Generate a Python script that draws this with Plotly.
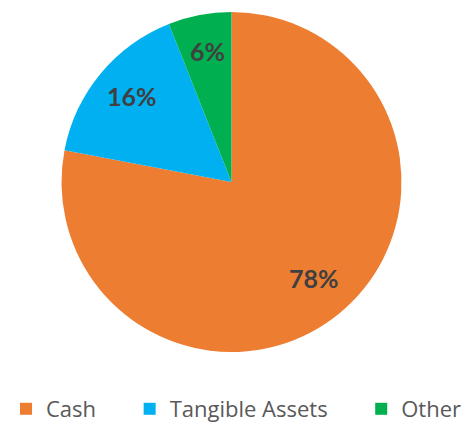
import math
import plotly.graph_objects as go

labels = ["Cash", "Tangible Assets", "Other"]
values = [78, 16, 6]
colors = ["#ED7D31", "#00B0F0", "#00B050"]

# page body has an 8px margin; figure coordinates are window coords minus 8
OFF = 8
W, H = 469 - OFF, 424 - OFF
cx, cy, R = 231.5 - OFF, 182 - OFF, 170
label_frac = 0.76

pad = "\u00a0" * 5
legend_names = [l + pad for l in labels[:-1]] + [labels[-1]]

fig = go.Figure(go.Pie(
    labels=legend_names,
    values=values,
    sort=False,
    direction="clockwise",
    rotation=0,
    marker=dict(colors=colors, line=dict(width=0)),
    textinfo="none",
    domain=dict(x=[(cx - R) / W, (cx + R) / W], y=[1 - (cy + R) / H, 1 - (cy - R) / H]),
    customdata=labels,
    hovertemplate="%{customdata}: %{percent:.0%}<extra></extra>",
))

total = sum(values)
cum = 0
for v in values:
    mid = (cum + v / 2) / total * 2 * math.pi
    cum += v
    px = cx + label_frac * R * math.sin(mid)
    py = cy - label_frac * R * math.cos(mid) - 4
    fig.add_annotation(
        x=px / W, y=1 - py / H, xref="paper", yref="paper",
        xanchor="center", yanchor="middle",
        text=f"<b>{round(v / total * 100)}%</b>", showarrow=False,
        font=dict(family="Lato, Liberation Sans, sans-serif", size=25, color="#404040"),
    )

fig.update_layout(
    width=W, height=H,
    margin=dict(l=0, r=0, t=0, b=0, autoexpand=False),
    paper_bgcolor="white",
    plot_bgcolor="white",
    showlegend=True,
    legend=dict(
        orientation="h", x=(236.5 - OFF) / W, xanchor="center",
        y=1 - (409 - OFF) / H, yanchor="middle",
        font=dict(family="Open Sans, Liberation Sans, sans-serif", size=22, color="#595959"),
        traceorder="normal",
    ),
)

fig.write_html("out.html")
